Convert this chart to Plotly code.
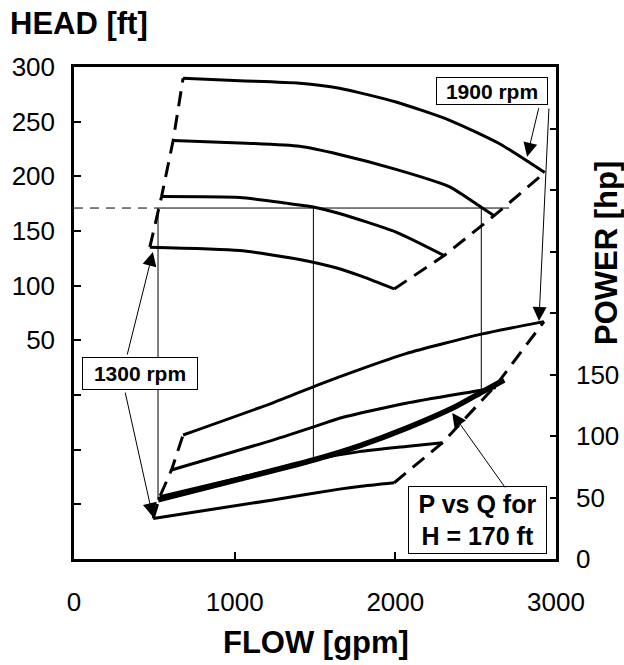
import plotly.graph_objects as go

# ---------------- data ----------------
# Head curves (flow [gpm], head [ft])
Q_H1900 = [679, 1031, 1404, 1652, 2004, 2335, 2646, 2930]
H_1900 = [289.7, 287.5, 285.2, 280.6, 268, 251.5, 230, 203.4]
Q_H1700 = [617, 1031, 1404, 1652, 2004, 2335, 2532, 2615]
H_1700 = [232.7, 230.6, 227.5, 220, 206.4, 190.6, 172, 164]
Q_H1500 = [545, 1031, 1321, 1490, 1652, 2004, 2304]
H_1500 = [181.5, 180.6, 175.5, 172, 166, 149, 127.5]
Q_H1300 = [472, 1031, 1404, 1652, 1797, 1993]
H_1300 = [135.2, 132.1, 124, 115.5, 108.2, 97]
# dashed limit lines on the head chart
Q_SHUTOFF = [472, 545, 617, 679]
H_SHUTOFF = [135.2, 181.5, 232.7, 289.7]
Q_RUNOUT_H = [1993, 2304, 2615, 2930]
H_RUNOUT = [97, 127.5, 164, 203.4]

# Power curves (flow [gpm], power [hp])
Q_P1900 = [679, 1238, 1528, 1776, 2066, 2542, 2925]
P_1900 = [100.8, 127, 142, 154, 167, 183, 193]
Q_P1700 = [607, 1238, 1528, 1652, 2066, 2542, 2625]
P_1700 = [72.4, 96.7, 109, 114.4, 126.6, 137.4, 139.5]
Q_P1500 = [534, 1031, 1490, 1776, 2066, 2294]
P_1500 = [50.7, 66, 80.5, 87.3, 91.5, 94.6]
Q_P1300 = [493, 1238, 1652, 1776, 1993]
P_1300 = [33, 48, 56.8, 59, 62]
# P vs Q for H = 170 ft
Q_PH170 = [523, 1031, 1490, 1776, 2066, 2376, 2542, 2677]
P_H170 = [48, 65, 80.5, 92, 106.2, 124, 136, 145.5]
# dashed limit lines on the power chart
Q_PLEFT = [493, 534, 607, 679]
P_LEFT = [33, 50.7, 72.4, 100.8]
Q_PRIGHT = [1993, 2294, 2625, 2925]
P_RIGHT = [62, 94.6, 141, 193]

# H = 170 ft construction lines
H_REF = 171
Q_REF_END = 2708
Q_INT = [523, 1490, 2535]
P_INT = [48, 80.5, 137]

# axes
X_TICKS = [0, 1000, 2000, 3000]
HEAD_RANGE = [-150, 300]
HEAD_TICKS = [-100, -50, 0, 50, 100, 150, 200, 250, 300]
HEAD_TEXT = ["", "", "", "50", "100", "150", "200", "250", "300"]
POW_RANGE = [0, 400]
POW_TICKS = [0, 50, 100, 150, 200, 250, 300, 350]
POW_TEXT = ["0", "50", "100", "150", "", "", "", ""]


def head_to_power(h):
    f = (h - HEAD_RANGE[0]) / (HEAD_RANGE[1] - HEAD_RANGE[0])
    return POW_RANGE[0] + f * (POW_RANGE[1] - POW_RANGE[0])


FONT = "Liberation Sans, Arial, sans-serif"
fig = go.Figure()


def add(q, v, axis="y", width=3, dash=None, shape="spline"):
    fig.add_trace(go.Scatter(
        x=q, y=v, yaxis=axis, mode="lines",
        line=dict(color="black", width=width, dash=dash, shape=shape,
                  smoothing=0.6 if shape == "spline" else None),
        hoverinfo="skip", showlegend=False))


# thin construction lines
add([0, Q_INT[0]], [H_REF, H_REF], "y", 1, "9px,7px", "linear")
add([Q_INT[0], Q_REF_END], [H_REF, H_REF], "y", 1, None, "linear")
for q, p in zip(Q_INT, P_INT):
    add([q, q], [head_to_power(H_REF), p], "y2", 1, None, "linear")

# head curves
for q, h in [(Q_H1900, H_1900), (Q_H1700, H_1700), (Q_H1500, H_1500), (Q_H1300, H_1300)]:
    add(q, h, "y", 3)
add(Q_SHUTOFF, H_SHUTOFF, "y", 3, "15px,9px", "linear")
add(Q_RUNOUT_H, H_RUNOUT, "y", 3, "15px,9px", "linear")

# power curves
for q, p in [(Q_P1900, P_1900), (Q_P1700, P_1700), (Q_P1500, P_1500), (Q_P1300, P_1300)]:
    add(q, p, "y2", 3)
add(Q_PH170, P_H170, "y2", 5.5)
add(Q_PLEFT, P_LEFT, "y2", 3, "15px,9px", "linear")
add(Q_PRIGHT, P_RIGHT, "y2", 3, "15px,9px", "linear")

ann = []


def box(text, x, y, yref, w, h, size):
    ann.append(dict(text=text, x=x, y=y, xref="x", yref=yref, showarrow=False,
                    font=dict(family=FONT, size=size, color="black"),
                    bgcolor="white", bordercolor="black", borderwidth=1,
                    borderpad=1, width=w, height=h, align="center"))


def arrow(x, y, yref, ax, ay):
    ann.append(dict(text="", x=x, y=y, xref="x", yref=yref, ax=ax, ay=ay,
                    showarrow=True, arrowhead=2, arrowsize=2.8, arrowwidth=1,
                    arrowcolor="black"))


box("<b>1900 rpm</b>", 2604, 278, "y", 108, 24, 21)
box("<b>1300 rpm</b>", 408, 151, "y2", 112, 29, 21)
box("<b>P vs Q for<br>H = 170 ft</b>", 2514, 32, "y2", 135, 64, 25)

arrow(2820, 218, "y", 12, -50)
arrow(2894, 193.5, "y2", 10, -214)
arrow(491, 130.8, "y", -26, 104)
arrow(491, 34.1, "y2", -28, -126)
arrow(2354, 118.7, "y2", 54, 76)

# axis titles
ann.append(dict(text="<b>HEAD [ft]</b>", xref="paper", yref="paper", x=-0.137, y=1.0874,
                xanchor="left", yanchor="middle", showarrow=False,
                font=dict(family=FONT, size=31, color="black")))
ann.append(dict(text="<b>FLOW [gpm]</b>", xref="paper", yref="paper", x=0.502, y=-0.1707,
                xanchor="center", yanchor="middle", showarrow=False,
                font=dict(family=FONT, size=31, color="black")))
ann.append(dict(text="<b>POWER [hp]</b>", xref="paper", yref="paper", x=1.1058, y=0.622,
                xanchor="center", yanchor="middle", showarrow=False, textangle=-90,
                font=dict(family=FONT, size=31, color="black")))

tickfont = dict(family=FONT, size=26, color="black")
common = dict(ticks="inside", tickwidth=1.5, tickcolor="black", showline=True,
              linewidth=2.5, linecolor="black", showgrid=False, zeroline=False,
              tickfont=tickfont, automargin=False)
fig.update_layout(
    width=624, height=665,
    margin=dict(l=74, r=68, t=67, b=106, autoexpand=False),
    paper_bgcolor="white", plot_bgcolor="white",
    showlegend=False,
    annotations=ann,
    xaxis=dict(range=[0, 3000], tickvals=X_TICKS, ticklen=7, mirror=True,
               ticklabelstandoff=18, **common),
    yaxis=dict(range=HEAD_RANGE, tickvals=HEAD_TICKS, ticktext=HEAD_TEXT,
               ticklen=7, ticklabelstandoff=11, **common),
    yaxis2=dict(range=POW_RANGE, tickvals=POW_TICKS, ticktext=POW_TEXT,
                overlaying="y", side="right", ticklen=6, ticklabelstandoff=12,
                **common),
)

fig.write_html("out.html",
               config={"displayModeBar": False},
               post_script="document.body.style.margin='0px';"
                           "document.body.style.overflow='hidden';")
